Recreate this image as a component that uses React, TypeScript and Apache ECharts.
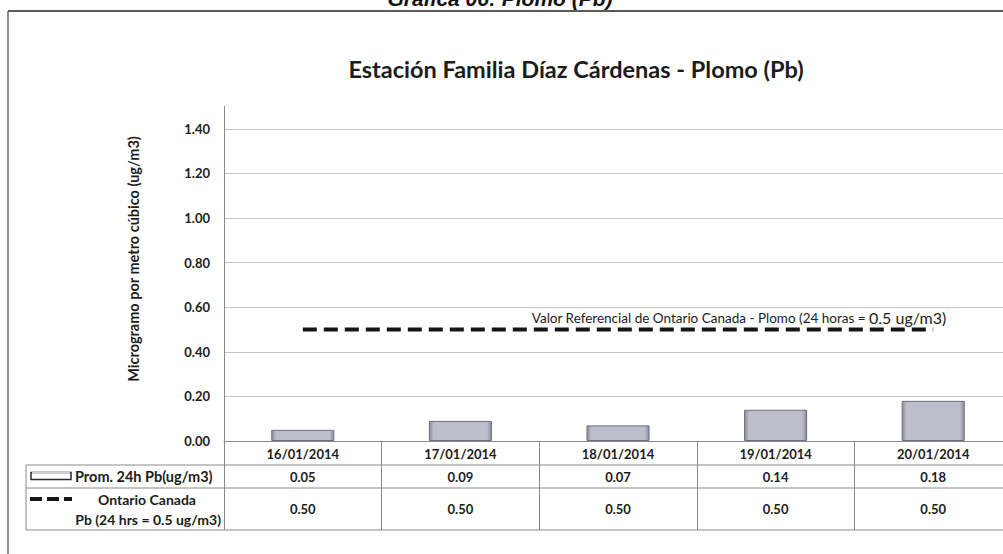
import React, { useEffect, useRef } from 'react';
import * as echarts from 'echarts';

const categories = ['16/01/2014', '17/01/2014', '18/01/2014', '19/01/2014', '20/01/2014'];
const leadValues = [0.05, 0.09, 0.07, 0.14, 0.18];
const ontarioValues = [0.5, 0.5, 0.5, 0.5, 0.5];
const seriesNames = ['Prom. 24h Pb(ug/m3)', 'Ontario Canada\nPb (24 hrs = 0.5 ug/m3)'];
const caption = 'Gráfica 06: Plomo (Pb)';
const chartTitle = 'Estación Familia Díaz Cárdenas - Plomo (Pb)';
const yAxisTitle = 'Microgramo por metro cúbico (ug/m3)';
const refLabel = 'Valor Referencial de Ontario Canada - Plomo (24 horas = ';
const refLabelValue = '0.5 ug/m3)';

const FONT = 'Lato, "Noto Sans", sans-serif';
const TXT = '#1c1c1c';
const LINE = '#8a8a8a';

export default function App() {
  const ref = useRef<HTMLDivElement>(null);
  useEffect(() => {
    document.body.style.margin = '0';
    const chart = echarts.init(ref.current!, null, { renderer: 'svg' });
    const barColor = new echarts.graphic.LinearGradient(0, 0, 1, 0, [
      { offset: 0, color: '#8c8c9c' },
      { offset: 0.07, color: '#bdbdcb' },
      { offset: 0.93, color: '#bdbdcb' },
      { offset: 1, color: '#8c8c9c' },
    ]);
    chart.setOption({
      animation: false,
      backgroundColor: '#ffffff',
      textStyle: { fontFamily: FONT },
      grid: { left: 224, top: 106.5, width: 788, bottom: 113, containLabel: false, outerBoundsMode: 'none' },
      xAxis: {
        type: 'category',
        data: categories,
        axisLine: { show: true, lineStyle: { color: LINE, width: 1 } },
        axisTick: { show: true, length: 89, lineStyle: { color: LINE, width: 1 } },
        axisLabel: { color: TXT, fontWeight: 'bold', fontSize: 13, fontFamily: FONT, margin: 6, interval: 0 },
      },
      yAxis: {
        type: 'value',
        min: 0,
        max: 1.5,
        interval: 0.2,
        axisLine: { show: true, lineStyle: { color: LINE, width: 1 } },
        axisTick: { show: false },
        axisLabel: {
          color: TXT,
          fontWeight: 'bold',
          fontSize: 13,
          fontFamily: FONT,
          margin: 14,
          showMaxLabel: false,
          formatter: (v: number) => v.toFixed(2),
        },
        splitLine: { show: true, showMaxLine: false, lineStyle: { color: '#c4c4c4', width: 1 } },
      },
      series: [
        {
          name: seriesNames[0],
          type: 'bar',
          data: leadValues,
          barWidth: '40%',
          itemStyle: { color: barColor, borderColor: '#6e6e7e', borderWidth: 1 },
        },
        {
          name: seriesNames[1],
          type: 'line',
          data: ontarioValues,
          showSymbol: false,
          symbol: 'none',
          lineStyle: { color: '#151515', width: 4, type: [14, 7] },
        },
      ],
    });

    const cx = (i: number) => chart.convertToPixel({ xAxisIndex: 0 }, i) as number;
    const yv = (v: number) => chart.convertToPixel({ yAxisIndex: 0 }, v) as number;
    const rowTop = [465, 488, 530];
    const graphics: any[] = [];
    // outer frame
    graphics.push({ type: 'line', shape: { x1: 8, y1: 11, x2: 1003, y2: 11 }, style: { stroke: '#5a5a5a', lineWidth: 2 } });
    graphics.push({ type: 'line', shape: { x1: 8, y1: 11, x2: 8, y2: 554 }, style: { stroke: '#6a6a6a', lineWidth: 1.5 } });
    // caption (cut at top as in the source)
    graphics.push({
      type: 'text', x: 500, y: -2,
      style: { text: caption, font: 'italic bold 21px "Liberation Sans", Arial, sans-serif', fill: '#111', align: 'center', verticalAlign: 'middle' },
    });
    // title
    graphics.push({
      type: 'text', x: 576, y: 69,
      style: { text: chartTitle, font: `bold 23.5px ${FONT}`, fill: TXT, align: 'center', verticalAlign: 'middle' },
    });
    // y axis title
    graphics.push({
      type: 'text', x: 133, y: 259, rotation: Math.PI / 2,
      style: { text: yAxisTitle, font: `bold 14.5px ${FONT}`, fill: TXT, align: 'center', verticalAlign: 'middle' },
    });
    // reference line label
    const lastX = cx(ontarioValues.length - 1);
    graphics.push({
      type: 'text', x: lastX + 13, y: yv(ontarioValues[ontarioValues.length - 1]) - 12,
      style: {
        text: `{a|${refLabel}}{b|${refLabelValue}}`,
        align: 'right', verticalAlign: 'middle',
        rich: {
          a: { fontFamily: FONT, fontSize: 13.5, fill: TXT, color: TXT },
          b: { fontFamily: FONT, fontSize: 16, fill: TXT, color: TXT },
        },
      },
    });
    // table lines
    graphics.push({ type: 'line', shape: { x1: 26, y1: rowTop[0], x2: 1003, y2: rowTop[0] }, style: { stroke: LINE, lineWidth: 1 } });
    graphics.push({ type: 'line', shape: { x1: 26, y1: rowTop[1], x2: 1003, y2: rowTop[1] }, style: { stroke: LINE, lineWidth: 1 } });
    graphics.push({ type: 'line', shape: { x1: 26, y1: rowTop[2], x2: 1003, y2: rowTop[2] }, style: { stroke: LINE, lineWidth: 1 } });
    graphics.push({ type: 'line', shape: { x1: 26, y1: rowTop[0], x2: 26, y2: rowTop[2] }, style: { stroke: LINE, lineWidth: 1 } });
    // table values
    const r1 = (rowTop[0] + rowTop[1]) / 2;
    const r2 = (rowTop[1] + rowTop[2]) / 2;
    leadValues.forEach((v, i) => {
      graphics.push({ type: 'text', x: cx(i), y: r1, style: { text: v.toFixed(2), font: `bold 13px ${FONT}`, fill: TXT, align: 'center', verticalAlign: 'middle' } });
    });
    ontarioValues.forEach((v, i) => {
      graphics.push({ type: 'text', x: cx(i), y: r2, style: { text: v.toFixed(2), font: `bold 13px ${FONT}`, fill: TXT, align: 'center', verticalAlign: 'middle' } });
    });
    // legend keys
    graphics.push({ type: 'rect', shape: { x: 31, y: r1 - 4, width: 40, height: 7 }, style: { fill: '#ffffff', stroke: '#2a2a2a', lineWidth: 1.5 } });
    graphics.push({ type: 'line', shape: { x1: 32, y1: r1 - 4, x2: 70, y2: r1 - 4 }, style: { stroke: '#d0d0d8', lineWidth: 1.5 } });
    graphics.push({ type: 'text', x: 75, y: r1, style: { text: seriesNames[0], font: `bold 14.5px ${FONT}`, fill: TXT, align: 'left', verticalAlign: 'middle' } });
    graphics.push({ type: 'line', shape: { x1: 30, y1: 499, x2: 72, y2: 499 }, style: { stroke: '#151515', lineWidth: 4, lineDash: [12, 5] } });
    const legLines = seriesNames[1].split('\n');
    graphics.push({ type: 'text', x: 147, y: 499, style: { text: legLines[0], font: `bold 14px ${FONT}`, fill: TXT, align: 'center', verticalAlign: 'middle' } });
    graphics.push({ type: 'text', x: 221, y: 519, style: { text: legLines[1], font: `bold 14px ${FONT}`, fill: TXT, align: 'right', verticalAlign: 'middle' } });

    chart.setOption({ graphic: graphics });
    return () => chart.dispose();
  }, []);
  return <div ref={ref} style={{ width: 1003, height: 554 }} />;
}
